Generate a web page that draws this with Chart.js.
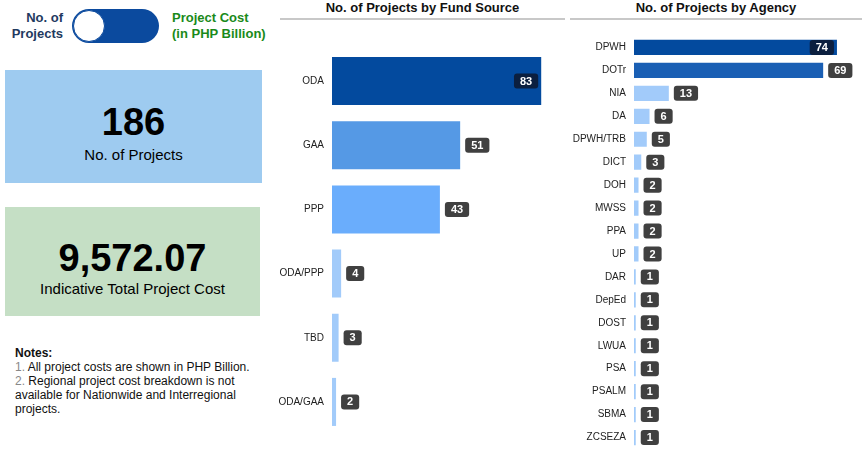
<!DOCTYPE html>
<html>
<head>
<meta charset="utf-8">
<script src="https://cdn.jsdelivr.net/npm/chart.js@4"></script>
<style>
  body { margin: 0; width: 865px; height: 455px; background: #fff; font-family: "Liberation Sans", Arial, sans-serif; position: relative; overflow: hidden; }
  .abs { position: absolute; }
  .lbl { font-weight: bold; font-size: 13px; line-height: 16px; }
  .title { font-weight: bold; font-size: 13px; color: #111; text-align: center; }
  .rule { height: 2px; background: #c8c8c8; }
  .card { text-align: center; color: #000; }
</style>
</head>
<body>
<!-- toggle -->
<div class="abs lbl" style="left:5px; top:10px; width:58px; text-align:right; color:#1f3a5f;">No. of Projects</div>
<div class="abs" style="left:72px; top:9px; width:87px; height:34px; border-radius:17px; background:#0b4a9e;"></div>
<div class="abs" style="left:73px; top:10px; width:30px; height:30px; border-radius:50%; background:#fff; border:1px solid #0b4a9e;"></div>
<div class="abs lbl" style="left:172px; top:10px; width:110px; color:#1a8a1a;">Project Cost<br>(in PHP Billion)</div>

<!-- cards -->
<div class="abs card" style="left:5px; top:70px; width:257px; height:113px; background:#9ecbf0;">
  <div style="font-weight:bold; font-size:38px; margin-top:32px; line-height:40px;">186</div>
  <div style="font-size:15px; margin-top:4px;">No. of Projects</div>
</div>
<div class="abs card" style="left:5px; top:207px; width:255px; height:109px; background:#c5dfc5;">
  <div style="font-weight:bold; font-size:38px; margin-top:30px; line-height:42px;">9,572.07</div>
  <div style="font-size:15px; margin-top:1px;">Indicative Total Project Cost</div>
</div>

<!-- notes -->
<div class="abs" style="left:15px; top:346px; width:240px; font-size:12px; line-height:14px; color:#111;">
  <div style="font-weight:bold;">Notes:</div>
  <div><span style="color:#888;">1.</span> All project costs are shown in PHP Billion.</div>
  <div><span style="color:#888;">2.</span> Regional project cost breakdown is not available for Nationwide and Interregional projects.</div>
</div>

<!-- chart titles -->
<div class="abs title" style="left:280px; top:0px; width:285px;">No. of Projects by Fund Source</div>
<div class="abs rule" style="left:280px; top:18px; width:285px;"></div>
<div class="abs title" style="left:570px; top:0px; width:292px;">No. of Projects by Agency</div>
<div class="abs rule" style="left:570px; top:18px; width:292px;"></div>

<div class="abs" style="left:275px; top:20px; width:295px; height:428px;"><canvas id="fundChart"></canvas></div>
<div class="abs" style="left:570px; top:20px; width:295px; height:443px;"><canvas id="agencyChart"></canvas></div>

<script>
// data
let fundSources = ["ODA", "GAA", "PPP", "ODA/PPP", "TBD", "ODA/GAA"];
let fundCounts = [83, 51, 43, 4, 3, 2];

let agencies = ["DPWH", "DOTr", "NIA", "DA", "DPWH/TRB", "DICT", "DOH", "MWSS", "PPA", "UP",
  "DAR", "DepEd", "DOST", "LWUA", "PSA", "PSALM", "SBMA", "ZCSEZA"];
let agencyCounts = [74, 69, 13, 6, 5, 3, 2, 2, 2, 2, 1, 1, 1, 1, 1, 1, 1, 1];

// bar colours
let fundColors = ["#034a9e", "#5599e5", "#6aadfc", "#a2cbfa", "#a2cbfa", "#a2cbfa"];
let agencyColors = agencyCounts.map((v, i) => i === 0 ? "#034a9e" : i === 1 ? "#1a5fb4" : "#a2cbfa");

// draws the value boxes after each bar (inside the bar if it won't fit outside)
const valueBoxes = {
  id: "valueBoxes",
  afterDatasetsDraw(chart) {
    const ctx = chart.ctx;
    const area = chart.chartArea;
    const meta = chart.getDatasetMeta(0);
    const data = chart.data.datasets[0].data;
    ctx.save();
    ctx.font = "bold 11px 'Liberation Sans', Arial, sans-serif";
    ctx.textAlign = "center";
    ctx.textBaseline = "middle";
    meta.data.forEach(function (bar, i) {
      let txt = String(data[i]);
      let w = ctx.measureText(txt).width + 12;
      let h = 15;
      let x = bar.x + 4;
      let fill = "#404040";
      if (x + w > area.right) {
        x = bar.x - w - 4;
        fill = "#0b1f3f";
      }
      let y = bar.y - h / 2;
      ctx.fillStyle = fill;
      ctx.beginPath();
      ctx.roundRect(x, y, w, h, 3);
      ctx.fill();
      ctx.fillStyle = "#fff";
      ctx.fillText(txt, x + w / 2, bar.y + 0.5);
    });
    ctx.restore();
  }
};

function makeChart(id, labels, values, colors, axisWidth, xMax, pad, barPct) {
  return new Chart(document.getElementById(id), {
    type: "bar",
    data: {
      labels: labels,
      datasets: [{
        data: values,
        backgroundColor: colors,
        borderColor: "rgba(255,255,255,0.5)",
        borderWidth: 1,
        categoryPercentage: 1,
        barPercentage: barPct
      }]
    },
    options: {
      indexAxis: "y",
      responsive: true,
      maintainAspectRatio: false,
      animation: false,
      layout: { padding: pad },
      plugins: { legend: { display: false }, tooltip: { enabled: false } },
      scales: {
        x: { display: false, min: 0, max: xMax },
        y: {
          grid: { display: false, drawTicks: false },
          border: { display: false },
          ticks: {
            color: "#222",
            padding: 8,
            font: { family: "'Liberation Sans', Arial, sans-serif", size: 10 }
          },
          afterFit: function (s) { s.width = axisWidth; }
        }
      }
    },
    plugins: [valueBoxes]
  });
}

makeChart("fundChart", fundSources, fundCounts, fundColors, 57, 92,
  { top: 29, bottom: 0, left: 0, right: 5 }, 0.78);
makeChart("agencyChart", agencies, agencyCounts, agencyColors, 64, 82,
  { top: 16, bottom: 0, left: 0, right: 5 }, 0.75);
</script>
</body>
</html>
